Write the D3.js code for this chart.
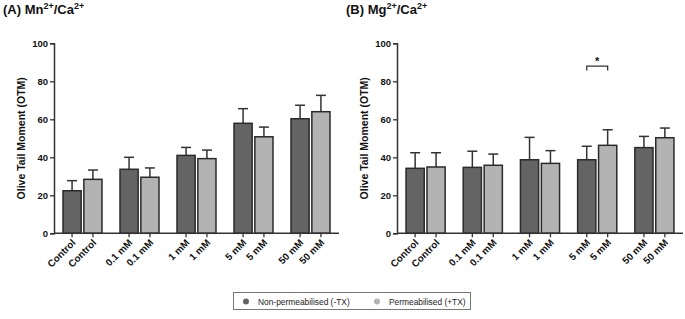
<!DOCTYPE html>
<html><head><meta charset="utf-8">
<script src="https://cdn.jsdelivr.net/npm/d3@7"></script>
<style>
body{margin:0;background:#fff;}
svg{display:block;font-family:"Liberation Sans",Arial,sans-serif;}
</style></head>
<body><svg id="c" width="685" height="319"></svg>
<script>
const groups = ["Control", "0.1 mM", "1 mM", "5 mM", "50 mM"];
const seriesNames = ["Non-permeabilised (-TX)", "Permeabilised (+TX)"];
const yTicks = [0, 20, 40, 60, 80, 100];
// Panel A: Mn2+/Ca2+
const mnMinus = [22.4, 33.7, 41.0, 57.9, 60.3];
const mnMinusErr = [27.7, 40.0, 45.2, 65.6, 67.4];
const mnPlus = [28.4, 29.5, 39.3, 50.8, 64.0];
const mnPlusErr = [33.3, 34.4, 43.8, 55.9, 72.6];
// Panel B: Mg2+/Ca2+
const mgMinus = [34.2, 34.7, 38.7, 38.7, 45.1];
const mgMinusErr = [42.4, 43.2, 50.5, 45.8, 51.0];
const mgPlus = [34.9, 35.8, 36.8, 46.3, 50.3];
const mgPlusErr = [42.4, 41.7, 43.5, 54.5, 55.4];
const sigBracket = {group: "5 mM", value: 88, drop: 2.3, label: "*"};

const colors = ["#646464", "#b3b3b3"];
const svg = d3.select("#c");

function panel(x0, x1, title, titleSup1, titleMid, titleSup2, minus, minusErr, plus, plusErr, sig) {
  const top = 43.3, bottom = 233.3;
  const y = d3.scaleLinear().domain([0, 100]).range([bottom, top]);
  const xg = d3.scaleBand().domain(groups).range([x0, x1]).paddingInner(0.316).paddingOuter(0.158);
  const xs = d3.scaleBand().domain([0, 1]).range([0, xg.bandwidth()]).paddingInner(0.13);
  const g = svg.append("g");

  // Title
  const t = g.append("text").attr("x", x0 - 51).attr("y", 14).attr("font-size", 13).attr("font-weight", "bold").attr("fill", "#111");
  t.append("tspan").text(title);
  t.append("tspan").attr("dy", -5).attr("font-size", 9).text(titleSup1);
  t.append("tspan").attr("dy", 5).text(titleMid);
  t.append("tspan").attr("dy", -5).attr("font-size", 9).text(titleSup2);

  // y label
  g.append("text").attr("transform", `translate(${x0 - 29},${(top + bottom) / 2}) rotate(-90)`)
    .attr("text-anchor", "middle").attr("font-size", 10.5).attr("font-weight", "bold").attr("fill", "#111")
    .text("Olive Tail Moment (OTM)");

  // y axis
  const ya = g.append("g").attr("transform", `translate(${x0},0)`)
    .call(d3.axisLeft(y).tickValues(yTicks).tickSize(4).tickPadding(2));
  ya.select(".domain").attr("stroke", "#333").attr("stroke-width", 1.5);
  ya.selectAll(".tick line").attr("stroke", "#333").attr("stroke-width", 1.3);
  ya.selectAll("text").attr("font-size", 9.5).attr("font-weight", "bold").attr("fill", "#111").attr("font-family", "Liberation Sans, Arial, sans-serif");

  // bars
  const data = [];
  groups.forEach((grp, i) => {
    data.push({grp, s: 0, v: minus[i], e: minusErr[i]});
    data.push({grp, s: 1, v: plus[i], e: plusErr[i]});
  });
  const bx = d => xg(d.grp) + xs(d.s);
  const cx = d => bx(d) + xs.bandwidth() / 2;

  // error bars (behind bars)
  const eb = g.append("g").attr("stroke", "#333").attr("stroke-width", 1.5);
  eb.selectAll("line.v").data(data).join("line")
    .attr("x1", cx).attr("x2", cx).attr("y1", d => y(d.v)).attr("y2", d => y(d.e));
  eb.selectAll("line.h").data(data).join("line").attr("class", "h")
    .attr("x1", d => cx(d) - 5).attr("x2", d => cx(d) + 5).attr("y1", d => y(d.e)).attr("y2", d => y(d.e));

  g.append("g").selectAll("rect").data(data).join("rect")
    .attr("x", bx).attr("width", xs.bandwidth())
    .attr("y", d => y(d.v)).attr("height", d => y(0) - y(d.v))
    .attr("fill", d => colors[d.s]).attr("stroke", "#2a2a2a").attr("stroke-width", 1.5);

  // x axis
  const xa = g.append("g").attr("transform", `translate(0,${bottom})`);
  xa.append("line").attr("x1", x0).attr("x2", x1).attr("stroke", "#333").attr("stroke-width", 1.5);
  const tk = xa.selectAll("g.t").data(data).join("g").attr("class", "t").attr("transform", d => `translate(${cx(d)},0)`);
  tk.append("line").attr("y2", 4).attr("stroke", "#333").attr("stroke-width", 1.3);
  tk.append("text").attr("transform", "translate(4,10) rotate(-45)").attr("text-anchor", "end")
    .attr("font-size", 9.8).attr("font-weight", "bold").attr("fill", "#111").text(d => d.grp);

  if (sig) {
    const a = xg(sig.group) + xs(0) + xs.bandwidth() / 2;
    const b = xg(sig.group) + xs(1) + xs.bandwidth() / 2;
    g.append("path").attr("d", `M${a},${y(sig.value - sig.drop)}V${y(sig.value)}H${b}V${y(sig.value - sig.drop)}`)
      .attr("fill", "none").attr("stroke", "#333").attr("stroke-width", 1.3);
    g.append("text").attr("x", (a + b) / 2).attr("y", y(sig.value) - 1).attr("text-anchor", "middle")
      .attr("font-size", 11).attr("font-weight", "bold").attr("fill", "#111").text(sig.label);
  }
}

panel(54, 339, "(A) Mn", "2+", "/Ca", "2+", mnMinus, mnMinusErr, mnPlus, mnPlusErr, null);
panel(397, 683, "(B) Mg", "2+", "/Ca", "2+", mgMinus, mgMinusErr, mgPlus, mgPlusErr, sigBracket);

// legend
const lg = svg.append("g");
lg.append("rect").attr("x", 233.5).attr("y", 292.5).attr("width", 237).attr("height", 17)
  .attr("fill", "#fff").attr("stroke", "#777").attr("stroke-width", 1);
const lx = [246, 377];
seriesNames.forEach((n, i) => {
  lg.append("circle").attr("cx", lx[i]).attr("cy", 301.5).attr("r", 3).attr("fill", colors[i]);
  lg.append("text").attr("x", lx[i] + 12).attr("y", 304.5).attr("font-size", 8.4).attr("fill", "#222").text(n);
});
</script></body></html>
